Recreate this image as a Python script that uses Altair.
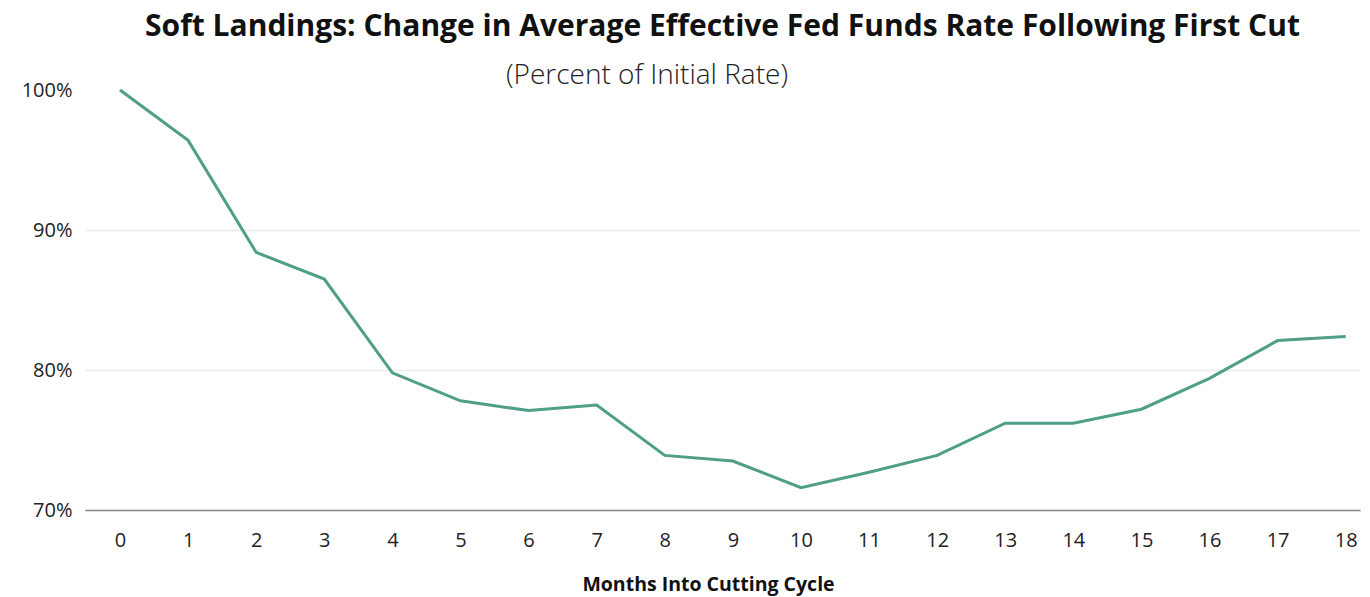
import altair as alt
import pandas as pd

months = list(range(19))
values = [100.0, 96.4, 88.4, 86.5, 79.8, 77.8, 77.1, 77.5, 73.9, 73.5,
          71.6, 72.7, 73.9, 76.2, 76.2, 77.2, 79.4, 82.1, 82.4]
y_ticks = [70, 80, 90, 100]

df = pd.DataFrame({"month": months, "value": values})

base = alt.Chart(df)

line = base.mark_line(color="#4f9e88", strokeWidth=3).encode(
    x=alt.X("month:Q",
            scale=alt.Scale(domain=[-0.514, 18.21], nice=False, zero=False),
            axis=alt.Axis(values=months, title="Months Into Cutting Cycle",
                          labelFontSize=20, labelColor="#222", labelPadding=20,
                          labelFont="Open Sans", titleFont="Open Sans", titleFontSize=19.5,
                          titleFontWeight="bold", titleColor="#111", titlePadding=25,
                          titleX=623, titleAlign="center",
                          ticks=False, grid=False, domainColor="#888", domainWidth=1.5,
                          labelFlush=False)),
    y=alt.Y("value:Q",
            scale=alt.Scale(domain=[70, 100], nice=False, zero=False),
            axis=alt.Axis(values=y_ticks, title=None, labelExpr="datum.value + '%'",
                          labelFontSize=20, labelColor="#222", labelFont="Open Sans",
                          labelPadding=13, ticks=False, domain=False,
                          grid=True, gridColor="#ebebeb", gridWidth=1.5,
                          gridOpacity={"expr": "datum.value == 100 ? 0 : 1"})),
)

subtitle = alt.Chart(pd.DataFrame({"t": ["(Percent of Initial Rate)"]})).mark_text(
    font="Open Sans", fontSize=28, fontWeight=300, color="#222", align="center",
    baseline="middle"
).encode(text="t:N", x=alt.value(562), y=alt.value(-14))

chart = alt.layer(line, subtitle).properties(
    width=1275, height=420,
    title=alt.TitleParams("Soft Landings: Change in Average Effective Fed Funds Rate Following First Cut",
                          font="Open Sans", fontSize=30, fontWeight="bold", color="#111",
                          anchor="middle", offset=20, frame="group"),
    autosize=alt.AutoSizeParams(type="none"),
    padding={"left": 85, "top": 90, "right": 10, "bottom": 87},
).configure_view(stroke=None)

chart.save("out.html", embed_options={"renderer": "svg", "actions": False})
